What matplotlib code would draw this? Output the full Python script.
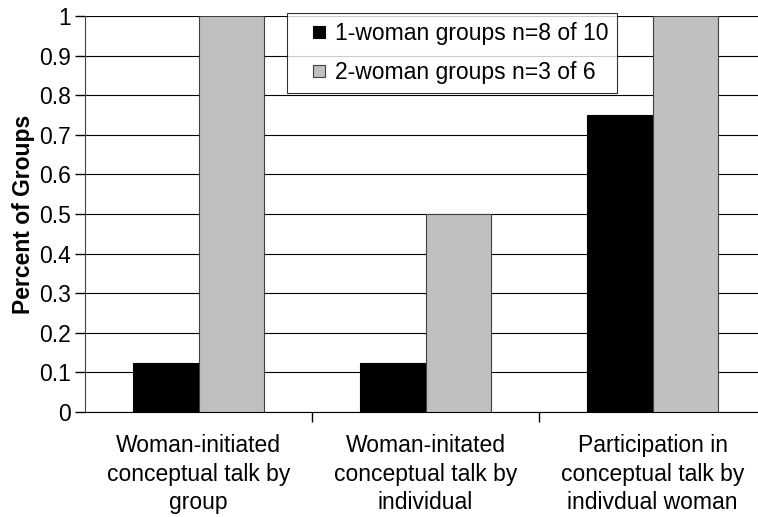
import numpy as np
import matplotlib
matplotlib.use("Agg")
import matplotlib.pyplot as plt
from matplotlib.lines import Line2D

plt.rcParams['font.family'] = ['Liberation Sans', 'DejaVu Sans']

# Datos
categorias = ["Woman-initiated\nconceptual talk by\ngroup",
              "Woman-initated\nconceptual talk by\nindividual",
              "Participation in\nconceptual talk by\nindivdual woman"]
una_mujer = [0.125, 0.125, 0.75]
dos_mujeres = [1.0, 0.5, 1.0]
etiquetas = ["1-woman groups n=8 of 10", "2-woman groups n=3 of 6"]
yticks = [0, 0.1, 0.2, 0.3, 0.4, 0.5, 0.6, 0.7, 0.8, 0.9, 1]

FS = 16.5
fig = plt.figure(figsize=(7.58, 5.17), dpi=100)
W, H = 758, 517
ax = fig.add_axes([85 / W, (H - 412) / H, (766 - 85) / W, (412 - 16) / H])

x = np.arange(len(categorias))
ancho = 0.289
ax.bar(x - ancho / 2, una_mujer, ancho, color='black', edgecolor='black', linewidth=0.8, zorder=3)
ax.bar(x + ancho / 2, dos_mujeres, ancho, color='#c0c0c0', edgecolor='#404040', linewidth=0.8, zorder=3)

ax.set_xlim(-0.5, 2.5)
ax.set_ylim(0, 1)
ax.set_yticks(yticks)
ax.set_yticklabels([f"{v:g}" for v in yticks], fontsize=FS)
ax.yaxis.grid(True, color='black', linewidth=0.8, zorder=0)
ax.set_axisbelow(True)

# ticks del eje x entre categorias
ax.set_xticks([0.5, 1.5], minor=False)
ax.set_xticklabels([])
ax.set_xticks(x, minor=True)
ax.set_xticklabels(categorias, minor=True, fontsize=FS, linespacing=1.3)
ax.tick_params(axis='x', which='minor', length=0, pad=16)
ax.tick_params(axis='x', which='major', length=7, width=1, direction='out')
ax.tick_params(axis='y', length=7, width=1, direction='out', pad=3)

for lado in ['top', 'right']:
    ax.spines[lado].set_visible(False)
ax.spines['left'].set_color('#404040')
ax.spines['bottom'].set_color('black')

ax.set_ylabel("Percent of Groups", fontsize=FS, fontweight='bold')
ax.yaxis.set_label_coords(-50 / (766 - 85), 0.5)

handles = [Line2D([], [], linestyle='none', marker='s', markersize=8.6,
                  markerfacecolor='black', markeredgecolor='black', markeredgewidth=0.8),
           Line2D([], [], linestyle='none', marker='s', markersize=8.6,
                  markerfacecolor='#c0c0c0', markeredgecolor='#404040', markeredgewidth=0.8)]
leg = fig.legend(handles, etiquetas, loc='upper left',
                 bbox_to_anchor=(287 / W, 1 - 13 / H), fontsize=FS,
                 frameon=True, fancybox=False, edgecolor='black',
                 handlelength=1.98, handletextpad=-0.3,
                 labelspacing=0.7, borderpad=0.4, borderaxespad=0)
leg.get_frame().set_linewidth(0.8)

fig.savefig("out.png", dpi=100)
